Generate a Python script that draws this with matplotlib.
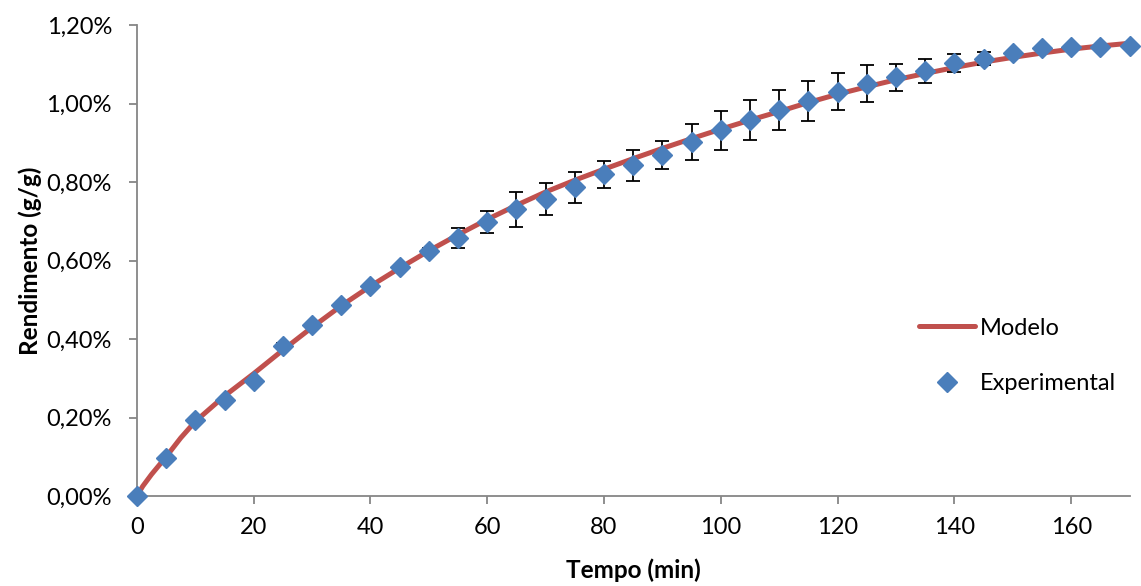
import matplotlib.pyplot as plt
from matplotlib.ticker import FuncFormatter

plt.rcParams['font.family'] = ['Lato', 'DejaVu Sans']

# tempo (min) e rendimento experimental (%)
tempo = [0, 5, 10, 15, 20, 25, 30, 35, 40, 45, 50, 55, 60, 65, 70, 75, 80, 85,
         90, 95, 100, 105, 110, 115, 120, 125, 130, 135, 140, 145, 150, 155, 160, 165, 170]
rend_exp = [0.0, 0.097, 0.194, 0.245, 0.293, 0.382, 0.436, 0.487, 0.535, 0.583,
            0.624, 0.657, 0.698, 0.731, 0.757, 0.787, 0.820, 0.843, 0.869, 0.902,
            0.932, 0.958, 0.985, 1.007, 1.030, 1.051, 1.067, 1.083, 1.103, 1.115,
            1.130, 1.141, 1.145, 1.145, 1.146]
erro = [0, 0, 0, 0, 0, 0.008, 0, 0, 0, 0,
        0.007, 0.025, 0.028, 0.045, 0.040, 0.040, 0.035, 0.040, 0.035, 0.045,
        0.050, 0.051, 0.051, 0.052, 0.047, 0.047, 0.035, 0.031, 0.023, 0.017,
        0, 0, 0, 0, 0]

# curva do modelo
tempo_mod = [0, 1, 2.5, 5, 7.5, 10, 15, 20, 25, 30, 35, 40, 45, 50, 55, 60, 65, 70,
             75, 80, 85, 90, 95, 100, 105, 110, 115, 120, 125, 130, 135, 140,
             145, 150, 155, 160, 165, 170]
rend_mod = [0.0, 0.025, 0.055, 0.100, 0.148, 0.190, 0.255, 0.312, 0.372, 0.430,
            0.485, 0.535, 0.581, 0.625, 0.666, 0.705, 0.741, 0.775, 0.805, 0.833,
            0.860, 0.886, 0.911, 0.935, 0.958, 0.980, 1.003, 1.024, 1.043, 1.061,
            1.077, 1.092, 1.106, 1.118, 1.129, 1.139, 1.147, 1.154]

fig = plt.figure(figsize=(11.41, 5.86), dpi=100)
ax = fig.add_axes([0.120, 0.1536, 0.870, 0.8034])

ax.plot(tempo_mod, rend_mod, color='#C0504D', lw=3.6, solid_capstyle='round',
        label='Modelo', zorder=2)
ax.errorbar(tempo, rend_exp, yerr=erro, fmt='none', ecolor='black',
            elinewidth=1.3, capsize=5, capthick=1.3, zorder=3)
ax.plot(tempo, rend_exp, 'D', color='#4A7EBB', markersize=10, ls='none',
        label='Experimental', zorder=4, clip_on=False)

ax.set_xlim(0, 170)
ax.set_ylim(0, 1.2)
ax.set_xticks(range(0, 161, 20))
ax.set_yticks([0, 0.2, 0.4, 0.6, 0.8, 1.0, 1.2])
ax.yaxis.set_major_formatter(FuncFormatter(lambda v, p: f'{v:.2f}%'.replace('.', ',')))

for s in ['top', 'right']:
    ax.spines[s].set_visible(False)
for s in ['left', 'bottom']:
    ax.spines[s].set_color('#868686')
    ax.spines[s].set_linewidth(1.3)
ax.tick_params(colors='#868686', labelcolor='black', labelsize=17, length=6, width=1.3)
ax.tick_params(axis='y', pad=12)
ax.tick_params(axis='x', pad=9)

ax.set_xlabel('Tempo (min)', fontsize=17.5, fontweight='bold', labelpad=15)
ax.set_ylabel('Rendimento (g/g)', fontsize=17.5, fontweight='bold', labelpad=3)

ax.legend(loc='center left', bbox_to_anchor=(0.766, 0.298), frameon=False,
          fontsize=17, handlelength=2.4, labelspacing=1.45, handletextpad=0.2)

fig.savefig('out.png', dpi=100)
